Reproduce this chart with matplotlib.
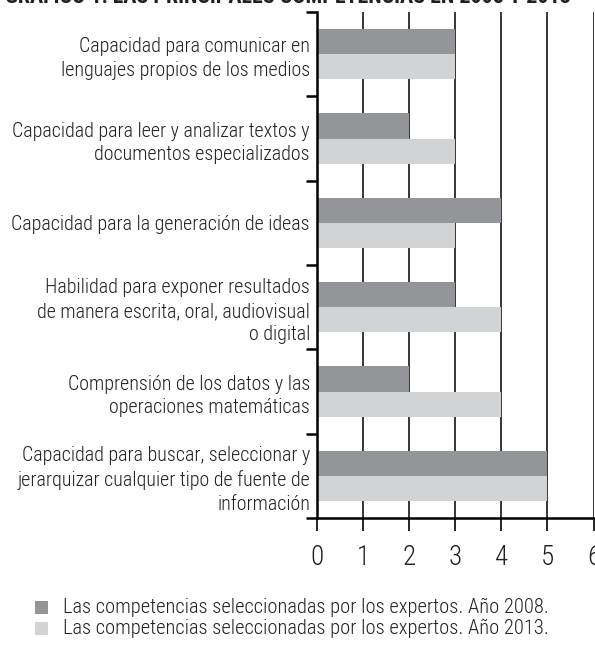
import matplotlib
matplotlib.use("Agg")
import matplotlib.pyplot as plt
import matplotlib.font_manager as fm
from matplotlib.patches import Rectangle
from matplotlib.textpath import TextPath
import numpy as np

# DATA
categorias = [
    "Capacidad para comunicar en\nlenguajes propios de los medios",
    "Capacidad para leer y analizar textos y\ndocumentos especializados",
    "Capacidad para la generación de ideas",
    "Habilidad para exponer resultados\nde manera escrita, oral, audiovisual\no digital",
    "Comprensión de los datos y las\noperaciones matemáticas",
    "Capacidad para buscar, seleccionar y\njerarquizar cualquier tipo de fuente de\ninformación",
]
valores_2008 = [3, 2, 4, 3, 2, 5]
valores_2013 = [3, 3, 3, 4, 4, 5]
label_2008 = "Las competencias seleccionadas por los expertos. Año 2008."
label_2013 = "Las competencias seleccionadas por los expertos. Año 2013."
titulo = "GRÁFICO 1: LAS PRINCIPALES COMPETENCIAS EN 2008 Y 2013"

color_2008 = "#939598"
color_2013 = "#d1d3d4"
color_texto = "#231f20"


def buscar_fuente(peso='regular'):
    # busca una fuente estrecha (condensed / narrow) instalada
    prefs = ['robotocondensed', 'liberationsansnarrow', 'opensanscondensed',
             'notosanscondensed', 'dejavusanscondensed', 'condensed', 'narrow']
    otros = ['light', 'thin', 'medium', 'black', 'semi', 'extra', 'bold']
    cands = []
    for f in fm.fontManager.ttflist:
        fn = f.fname.lower().replace('-', '').replace('_', '').replace(' ', '')
        if 'italic' in fn or 'oblique' in fn:
            continue
        if peso != 'regular':
            if peso not in fn or any(k in fn for k in otros if k != peso):
                continue
        elif any(k in fn for k in otros):
            continue
        for i, p in enumerate(prefs):
            if p in fn:
                cands.append((i, f.fname))
                break
    if cands:
        cands.sort()
        return fm.FontProperties(fname=cands[0][1])
    if peso == 'light':
        return buscar_fuente('regular')
    return fm.FontProperties(family='Liberation Sans',
                             weight='bold' if peso == 'bold' else 'normal')


fp_reg = buscar_fuente('light')
fp_bold = buscar_fuente('bold')


def ajustar(texto, fp, ancho_px):
    # tamaño de letra para que el texto ocupe ancho_px pixeles
    w = TextPath((0, 0), texto, size=10, prop=fp).get_extents().width * 100 / 72
    return 10 * ancho_px / w


size_cat = ajustar("Capacidad para leer y analizar textos y", fp_reg, 297)
size_leg = ajustar(label_2008, fp_reg, 482)
size_tit = ajustar(titulo, fp_bold, 563)

W, H = 595, 646
fig = plt.figure(figsize=(W / 100, H / 100), dpi=100)
ax = fig.add_axes([317 / W, 1 - 518 / H, (593.5 - 317) / W, (518 - 12) / H])

y = np.arange(len(categorias))
h = 0.3
ax.barh(y - h / 2, valores_2008, height=h, color=color_2008, zorder=2)
ax.barh(y + h / 2, valores_2013, height=h, color=color_2013, zorder=2)

ax.set_xlim(0, 6)
ax.set_ylim(len(categorias) - 0.5, -0.5)

# grid vertical negro
ax.set_axisbelow(True)
ax.grid(axis='x', color='black', linewidth=1.1)

# ejes
for s in ['top', 'right']:
    ax.spines[s].set_visible(False)
ax.spines['left'].set_linewidth(1.8)
ax.spines['bottom'].set_linewidth(1.8)

ax.set_xticks(range(7))
ax.tick_params(axis='x', direction='out', length=9, width=1.2, pad=10,
               labelcolor=color_texto, color='black')
for t in ax.get_xticklabels():
    t.set_fontproperties(fp_reg)
    t.set_fontsize(size_cat * 1.35)

ax.set_yticks(y)
ax.set_yticklabels(categorias, color=color_texto, linespacing=1.3)
for t in ax.get_yticklabels():
    t.set_fontproperties(fp_reg)
    t.set_fontsize(size_cat)
ax.tick_params(axis='y', which='major', length=0, pad=5)
ax.set_yticks(np.arange(-0.5, len(categorias)), minor=True)
ax.tick_params(axis='y', which='minor', direction='out', length=8, width=1.8, color='black')

# titulo cortado arriba
fig.text(0.008, 1 - 3 / H, titulo, fontproperties=fp_bold, fontsize=size_tit,
         color=color_texto, ha='left', va='baseline')

# LEYENDA
for yc, col, lab in [(607.5, color_2008, label_2008), (628.5, color_2013, label_2013)]:
    fig.add_artist(Rectangle((35 / W, 1 - (yc + 6.5) / H), 13 / W, 13 / H,
                             transform=fig.transFigure, facecolor=col, edgecolor='none'))
    fig.text(63 / W, 1 - yc / H, lab, fontproperties=fp_reg, fontsize=size_leg,
             color=color_texto, ha='left', va='center')

fig.savefig('out.png', dpi=100)
